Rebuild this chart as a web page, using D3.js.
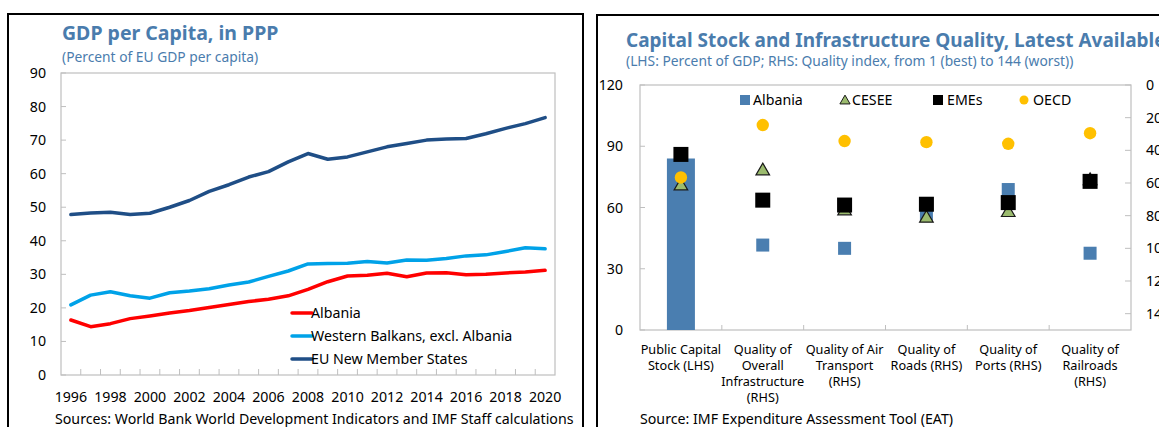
<!DOCTYPE html>
<html>
<head>
<meta charset="utf-8">
<script src="https://cdn.jsdelivr.net/npm/d3@7"></script>
<style>
  html, body { margin: 0; padding: 0; background: #fff; }
  svg { display: block; font-family: "Noto Sans", "Open Sans", sans-serif; }
</style>
</head>
<body>
<svg id="chart" width="1159" height="427"></svg>
<script>
/* ── Data: GDP per capita (left) ─────────────────────────── */
const years = d3.range(1996, 2021);
const albania = [16.4, 14.4, 15.3, 16.8, 17.6, 18.5, 19.2, 20.1, 21.0, 21.9, 22.6, 23.6, 25.5, 27.8, 29.5, 29.7, 30.3, 29.3, 30.4, 30.5, 29.9, 30.0, 30.4, 30.7, 31.2];
const westernBalkans = [20.9, 23.8, 24.8, 23.6, 22.9, 24.5, 25.0, 25.7, 26.8, 27.7, 29.4, 31.0, 33.1, 33.2, 33.3, 33.8, 33.4, 34.3, 34.2, 34.7, 35.5, 35.8, 36.8, 37.9, 37.6];
const euNms = [47.8, 48.3, 48.5, 47.8, 48.2, 50.0, 52.0, 54.7, 56.7, 59.0, 60.6, 63.5, 66.0, 64.3, 65.0, 66.5, 68.0, 69.0, 70.0, 70.3, 70.5, 71.9, 73.5, 74.9, 76.7];
const leftTicks = [0, 10, 20, 30, 40, 50, 60, 70, 80, 90];

/* ── Data: capital stock & infrastructure quality (right) ── */
const categories = [
  ['Public Capital', 'Stock (LHS)'],
  ['Quality of', 'Overall', 'Infrastructure', '(RHS)'],
  ['Quality of Air', 'Transport', '(RHS)'],
  ['Quality of', 'Roads (RHS)'],
  ['Quality of', 'Ports (RHS)'],
  ['Quality of', 'Railroads', '(RHS)']
];
// first value of each series is on the LHS (percent of GDP), the rest on the RHS (rank)
const qAlbania = [84, 98, 100, 79, 64, 103];
const qCesee = [71, 52, 76.5, 81, 77.5, 58];
const qEmes = [86, 70.5, 73.5, 73, 72, 59];
const qOecd = [74.7, 24.5, 34.3, 35, 36, 29.5];
const lhsTicks = [0, 30, 60, 90, 120];
const rhsTicks = [0, 20, 40, 60, 80, 100, 120, 140];

const TITLE_COLOR = '#4a7cad';
const GRID_GRAY = '#bfbfbf';

const svg = d3.select('#chart');

/* ── Panel frames ── */
svg.append('rect').attr('x', 8).attr('y', 14).attr('width', 575).attr('height', 430)
  .attr('fill', 'none').attr('stroke', '#000').attr('stroke-width', 2);
svg.append('rect').attr('x', 597).attr('y', 15).attr('width', 600).attr('height', 430)
  .attr('fill', 'none').attr('stroke', '#000').attr('stroke-width', 2);

/* ── Left chart ─────────────────────────────────────────── */
(function leftChart() {
  const g = svg.append('g');
  g.append('text').attr('x', 62).attr('y', 40).attr('fill', TITLE_COLOR)
    .attr('font-size', '19.5px').attr('font-weight', 700).text('GDP per Capita, in PPP');
  g.append('text').attr('x', 62).attr('y', 62).attr('fill', TITLE_COLOR)
    .attr('font-size', '13.8px').text('(Percent of EU GDP per capita)');

  const x = d3.scaleBand().domain(years).range([61, 555]);
  const y = d3.scaleLinear().domain([0, 90]).range([375, 73]);
  const cx = d => x(d) + x.bandwidth() / 2;

  // plot frame
  g.append('rect').attr('x', 61).attr('y', 73).attr('width', 494).attr('height', 302)
    .attr('fill', 'none').attr('stroke', GRID_GRAY).attr('stroke-width', 1.2);

  // y ticks + labels
  leftTicks.forEach(t => {
    g.append('line').attr('x1', 61).attr('x2', 66).attr('y1', y(t)).attr('y2', y(t))
      .attr('stroke', GRID_GRAY);
    g.append('text').attr('x', 46).attr('y', y(t) + 5).attr('text-anchor', 'end')
      .attr('font-size', '14.2px').attr('fill', '#000').text(t);
  });

  // x ticks between categories
  years.slice(1).forEach(yr => {
    g.append('line').attr('x1', x(yr)).attr('x2', x(yr)).attr('y1', 375).attr('y2', 369)
      .attr('stroke', GRID_GRAY);
  });
  years.filter(yr => yr % 2 === 0).forEach(yr => {
    g.append('text').attr('x', cx(yr)).attr('y', 402).attr('text-anchor', 'middle')
      .attr('font-size', '14.2px').attr('fill', '#000').text(yr);
  });

  const series = [
    { name: 'Albania', values: albania, color: '#ff0000' },
    { name: 'Western Balkans, excl. Albania', values: westernBalkans, color: '#00a2e8' },
    { name: 'EU New Member States', values: euNms, color: '#1f4e86' }
  ];
  const line = d3.line().x((d, i) => cx(years[i])).y(d => y(d));
  series.forEach(s => {
    g.append('path').datum(s.values).attr('d', line).attr('fill', 'none')
      .attr('stroke', s.color).attr('stroke-width', 3.5)
      .attr('stroke-linejoin', 'round').attr('stroke-linecap', 'round');
  });

  // legend
  series.forEach((s, i) => {
    const ly = 313 + i * 23;
    g.append('line').attr('x1', 292).attr('x2', 312).attr('y1', ly).attr('y2', ly)
      .attr('stroke', s.color).attr('stroke-width', 3.5).attr('stroke-linecap', 'round');
    g.append('text').attr('x', 311).attr('y', ly + 5).attr('font-size', '14.2px')
      .attr('fill', '#000').text(s.name);
  });

  g.append('text').attr('x', 55).attr('y', 424).attr('font-size', '14.2px').attr('fill', '#000')
    .text('Sources: World Bank World Development Indicators and IMF Staff calculations');
})();

/* ── Right chart ────────────────────────────────────────── */
(function rightChart() {
  const g = svg.append('g');
  g.append('text').attr('x', 626).attr('y', 47).attr('fill', TITLE_COLOR)
    .attr('font-size', '19px').attr('font-weight', 700)
    .text('Capital Stock and Infrastructure Quality, Latest Available');
  g.append('text').attr('x', 626).attr('y', 66).attr('fill', TITLE_COLOR)
    .attr('font-size', '13.8px')
    .text('(LHS: Percent of GDP; RHS: Quality index, from 1 (best) to 144 (worst))');

  const idx = d3.range(categories.length);
  const x = d3.scaleBand().domain(idx).range([640, 1131]);
  const cx = i => x(i) + x.bandwidth() / 2;
  const yL = d3.scaleLinear().domain([0, 120]).range([330, 85]);
  const yR = d3.scaleLinear().domain([0, 150]).range([85, 330]);
  const yv = (v, i) => (i === 0 ? yL(v) : yR(v));

  g.append('rect').attr('x', 640).attr('y', 85).attr('width', 491).attr('height', 245)
    .attr('fill', 'none').attr('stroke', GRID_GRAY).attr('stroke-width', 1.2);

  lhsTicks.forEach(t => {
    g.append('line').attr('x1', 640).attr('x2', 645).attr('y1', yL(t)).attr('y2', yL(t))
      .attr('stroke', GRID_GRAY);
    g.append('text').attr('x', 623).attr('y', yL(t) + 5).attr('text-anchor', 'end')
      .attr('font-size', '14.2px').attr('fill', '#000').text(t);
  });
  rhsTicks.forEach(t => {
    g.append('line').attr('x1', 1125).attr('x2', 1131).attr('y1', yR(t)).attr('y2', yR(t))
      .attr('stroke', GRID_GRAY);
    g.append('text').attr('x', 1146).attr('y', yR(t) + 5).attr('text-anchor', 'start')
      .attr('font-size', '14.2px').attr('fill', '#000').text(t);
  });
  idx.slice(1).forEach(i => {
    g.append('line').attr('x1', x(i)).attr('x2', x(i)).attr('y1', 330).attr('y2', 325)
      .attr('stroke', GRID_GRAY);
  });

  // category labels
  categories.forEach((lines, i) => {
    const t = g.append('text').attr('text-anchor', 'middle').attr('font-size', '12.7px')
      .attr('fill', '#000');
    lines.forEach((ln, k) => {
      t.append('tspan').attr('x', cx(i)).attr('y', 354 + k * 16).text(ln);
    });
  });

  // Albania: bar for the LHS category, squares for the rest
  const ALB = '#4a7eb0';
  g.append('rect').attr('x', cx(0) - 14).attr('y', yL(qAlbania[0]))
    .attr('width', 28).attr('height', yL(0) - yL(qAlbania[0])).attr('fill', ALB);
  qAlbania.forEach((v, i) => {
    if (i === 0) return;
    g.append('rect').attr('x', cx(i) - 6.5).attr('y', yR(v) - 6.5)
      .attr('width', 13).attr('height', 13).attr('fill', ALB);
  });

  const tri = d3.symbol().type(d3.symbolTriangle).size(80);
  qCesee.forEach((v, i) => {
    g.append('path').attr('d', tri())
      .attr('transform', `translate(${cx(i)},${yv(v, i) + 1})`)
      .attr('fill', '#9bbb6e').attr('stroke', '#1a1a1a').attr('stroke-width', 1.2);
  });
  qEmes.forEach((v, i) => {
    g.append('rect').attr('x', cx(i) - 7.5).attr('y', yv(v, i) - 7.5)
      .attr('width', 15).attr('height', 15).attr('fill', '#000');
  });
  qOecd.forEach((v, i) => {
    g.append('circle').attr('cx', cx(i)).attr('cy', yv(v, i)).attr('r', 6.2)
      .attr('fill', '#ffc000');
  });

  // legend
  const ly = 100;
  g.append('rect').attr('x', 740).attr('y', ly - 5).attr('width', 10).attr('height', 10).attr('fill', ALB);
  g.append('text').attr('x', 753).attr('y', ly + 5).attr('font-size', '14.2px').text('Albania');
  g.append('path').attr('d', d3.symbol().type(d3.symbolTriangle).size(45)())
    .attr('transform', `translate(845,${ly + 1})`)
    .attr('fill', '#9bbb6e').attr('stroke', '#1a1a1a').attr('stroke-width', 1);
  g.append('text').attr('x', 852).attr('y', ly + 5).attr('font-size', '14.2px').text('CESEE');
  g.append('rect').attr('x', 933).attr('y', ly - 5).attr('width', 10).attr('height', 10).attr('fill', '#000');
  g.append('text').attr('x', 947).attr('y', ly + 5).attr('font-size', '14.2px').text('EMEs');
  g.append('circle').attr('cx', 1024).attr('cy', ly).attr('r', 4.5).attr('fill', '#ffc000');
  g.append('text').attr('x', 1033).attr('y', ly + 5).attr('font-size', '14.2px').text('OECD');

  g.append('text').attr('x', 640).attr('y', 424).attr('font-size', '14.2px').attr('fill', '#000')
    .text('Source: IMF Expenditure Assessment Tool (EAT)');
})();
</script>
</body>
</html>
